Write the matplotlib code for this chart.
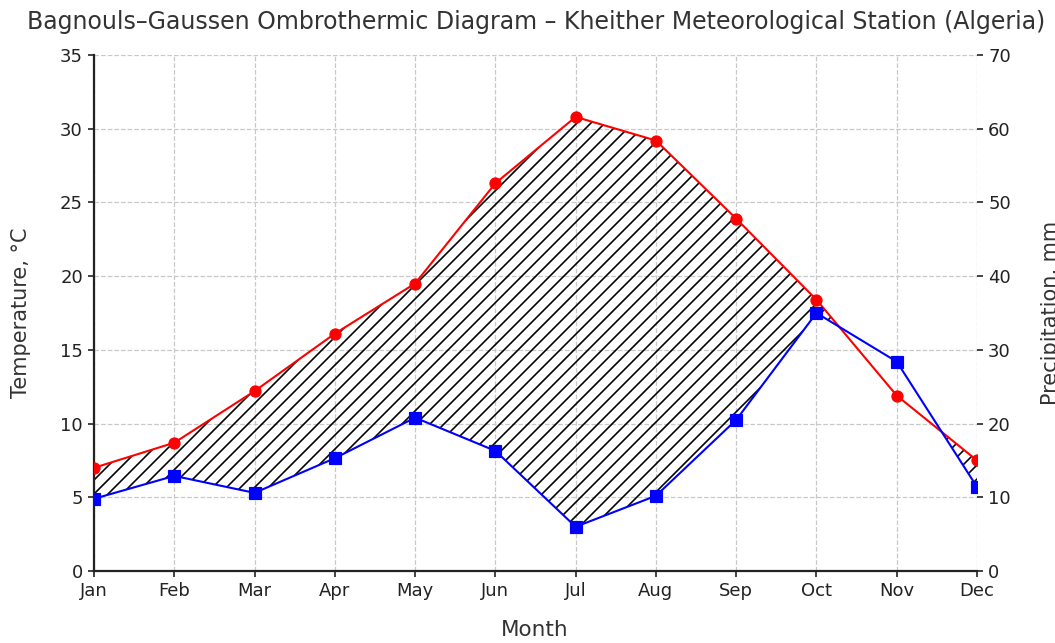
import matplotlib
matplotlib.use("Agg")
import matplotlib.pyplot as plt
import numpy as np

months = ["Jan", "Feb", "Mar", "Apr", "May", "Jun", "Jul", "Aug", "Sep", "Oct", "Nov", "Dec"]
temperature = [7.0, 8.7, 12.2, 16.1, 19.5, 26.3, 30.8, 29.2, 23.9, 18.4, 11.9, 7.5]
precipitation = [9.8, 12.9, 10.6, 15.3, 20.8, 16.3, 6.0, 10.2, 20.5, 35.0, 28.4, 11.4]

DPI = 84
S = 100.0 / DPI  # scale so sizes behave as at 100 dpi
W, H = 1055, 643
plt.rcParams["hatch.linewidth"] = 1.4

text_color = "#333333"
fig = plt.figure(figsize=(W / DPI, H / DPI), dpi=DPI)
ax = fig.add_axes([94 / W, 1 - 571 / H, (977 - 94) / W, (571 - 55) / H])
ax2 = ax.twinx()

x = np.arange(len(months))
t = np.array(temperature)
p_half = np.array(precipitation) / 2.0

ax.fill_between(x, t, p_half, where=t >= p_half, interpolate=True,
                facecolor="none", edgecolor="black", hatch="//", linewidth=0)
ax.plot(x, t, color="red", marker="o", markersize=8 * S, linewidth=1.5 * S, zorder=3)
ax2.plot(x, precipitation, color="blue", marker="s", markersize=8 * S, linewidth=1.5 * S, zorder=3)

ax.set_xlim(0, 11)
ax.set_ylim(0, 35)
ax2.set_ylim(0, 70)
ax.set_xticks(x)
ax.set_xticklabels(months)
ax.set_yticks(np.arange(0, 36, 5))
ax2.set_yticks(np.arange(0, 71, 10))

ax.grid(True, linestyle="--", color="#c8c8c8", linewidth=0.9 * S)
ax.set_axisbelow(True)

for a in (ax, ax2):
    a.spines["top"].set_visible(False)
    a.spines["right"].set_visible(False)
    a.tick_params(labelsize=13 * S, colors="#222222", labelcolor="#222222",
                  length=4 * S, width=1.2 * S, pad=4 * S)
ax2.spines["left"].set_visible(False)
ax2.spines["bottom"].set_visible(False)
ax.spines["left"].set_linewidth(1.6 * S)
ax.spines["bottom"].set_linewidth(1.6 * S)
ax.spines["left"].set_color("#222222")
ax.spines["bottom"].set_color("#222222")

fig.text(535 / W, 1 - 630 / H, "Month", fontsize=15.5 * S, color=text_color,
         ha="center", va="center")
fig.text(21 / W, 1 - 313 / H, "Temperature, °C", fontsize=15 * S, color=text_color,
         ha="center", va="center", rotation=90)
fig.text(1051 / W, 1 - 313 / H, "Precipitation, mm", fontsize=15 * S, color=text_color,
         ha="center", va="center", rotation=90)
fig.text(536 / W, 1 - 22 / H,
         "Bagnouls–Gaussen Ombrothermic Diagram – Kheither Meteorological Station (Algeria)",
         fontsize=17 * S, color=text_color, ha="center", va="center")

fig.savefig("out.png", dpi=DPI)
